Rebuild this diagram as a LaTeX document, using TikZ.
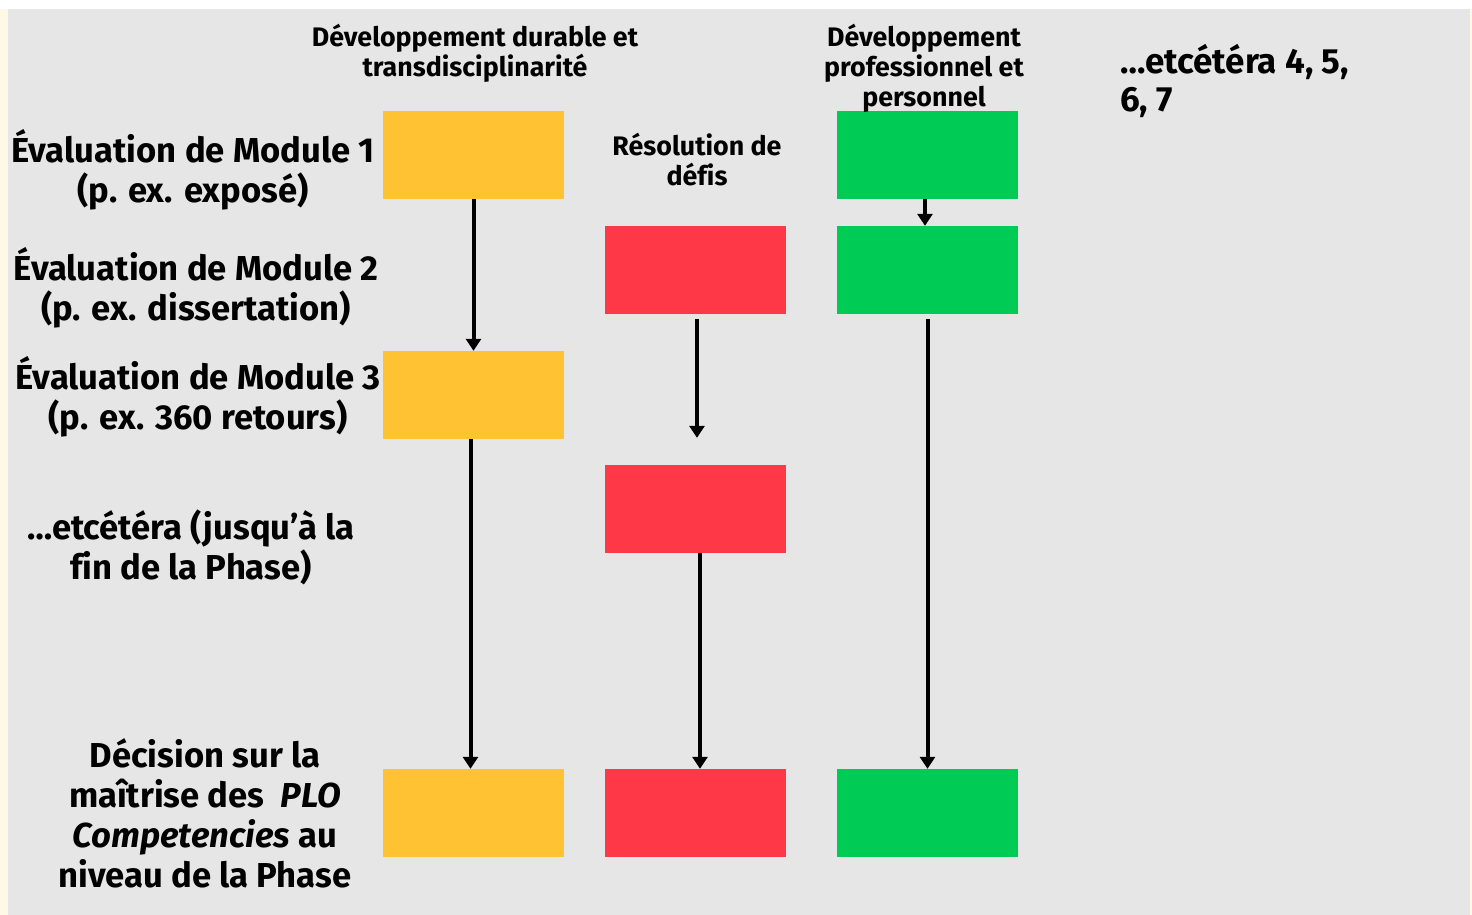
\documentclass[tikz,border=0pt]{standalone}
\usepackage{fontspec}
\setmainfont{Fira Sans}[Ligatures={NoCommon}]
\usetikzlibrary{arrows.meta}
\definecolor{bggray}{HTML}{E6E6E6}
\definecolor{cream}{HTML}{FFF8E6}
\definecolor{cyellow}{HTML}{FFC233}
\definecolor{cred}{HTML}{FF3848}
\definecolor{cgreen}{HTML}{00CC55}
\tikzset{
  box/.style={minimum width=181pt, minimum height=88pt, inner sep=0pt, draw=none},
  ybox/.style={box, fill=cyellow},
  rbox/.style={box, fill=cred},
  gbox/.style={box, fill=cgreen},
  flow/.style={line width=4pt, -{Triangle[width=15pt,length=12pt]}},
  biglabel/.style={align=center, inner sep=0pt, font=\bfseries\fontsize{34.6}{40}\selectfont},
  headlabel/.style={align=center, inner sep=0pt, font=\bfseries\fontsize{26.8}{30}\selectfont},
  etclabel/.style={align=left, inner sep=0pt, font=\bfseries\fontsize{35}{38}\selectfont},
}
\begin{document}
\begin{tikzpicture}[x=1pt,y=-1pt]
\useasboundingbox (0,0) rectangle (1472,915);
\fill[white] (0,0) rectangle (1472,915);
\fill[cream] (0,9) rectangle (8,915);
\fill[cream] (1470,9) rectangle (1472,915);
\fill[bggray] (8,9) rectangle (1470,915);

% boxes
\node[ybox] (y1) at (473.5,155) {};
\node[ybox] (y3) at (473.5,395) {};
\node[ybox] (yF) at (473.5,813) {};
\node[rbox] (r2) at (695.5,270) {};
\node[rbox] (r3) at (695.5,509) {};
\node[rbox] (rF) at (695.5,813) {};
\node[gbox] (g1) at (927.5,155) {};
\node[gbox] (g2) at (927.5,270) {};
\node[gbox] (gF) at (927.5,813) {};

% arrows
\draw[flow] (y1.south) -- (y3.north);
\draw[flow] ([xshift=-3pt]y3.south) -- ([xshift=-3pt]yF.north);
\draw[flow, shorten <=5pt, shorten >=27pt] ([xshift=1.5pt]r2.south) -- ([xshift=1.5pt]r3.north);
\draw[flow] ([xshift=4.5pt]r3.south) -- ([xshift=4.5pt]rF.north);
\draw[flow] ([xshift=-2.5pt]g1.south) -- ([xshift=-2.5pt]g2.north);
\draw[flow, shorten <=5pt] (g2.south) -- (gF.north);

% labels
\node[headlabel] (h1) at (475,53) {Développement durable et\\transdisciplinarité};
\node[headlabel] (h2) at (924,68) {Développement\\professionnel et\\personnel};
\node[headlabel] (h3) at (697,160) {Résolution de\\défis};
\node[etclabel, anchor=west] (h4) at (1120,81) {…etcétéra 4, 5,\\6, 7};

\node[biglabel] (l1) at (193,170) {Évaluation de Module 1\\(p. ex. exposé)};
\node[biglabel] (l2) at (196,288) {Évaluation de Module 2\\(p. ex. dissertation)};
\node[biglabel] (l3) at (198,397) {Évaluation de Module 3\\(p. ex. 360 retours)};
\node[biglabel] (l4) at (191,547) {…etcétéra (jusqu’à la\\fin de la Phase)};
\node[biglabel] (l5) at (205,813) {Décision sur la\\maîtrise des\ \ \textit{PLO}\\\textit{Competencies} au\\niveau de la Phase};
\end{tikzpicture}
\end{document}
